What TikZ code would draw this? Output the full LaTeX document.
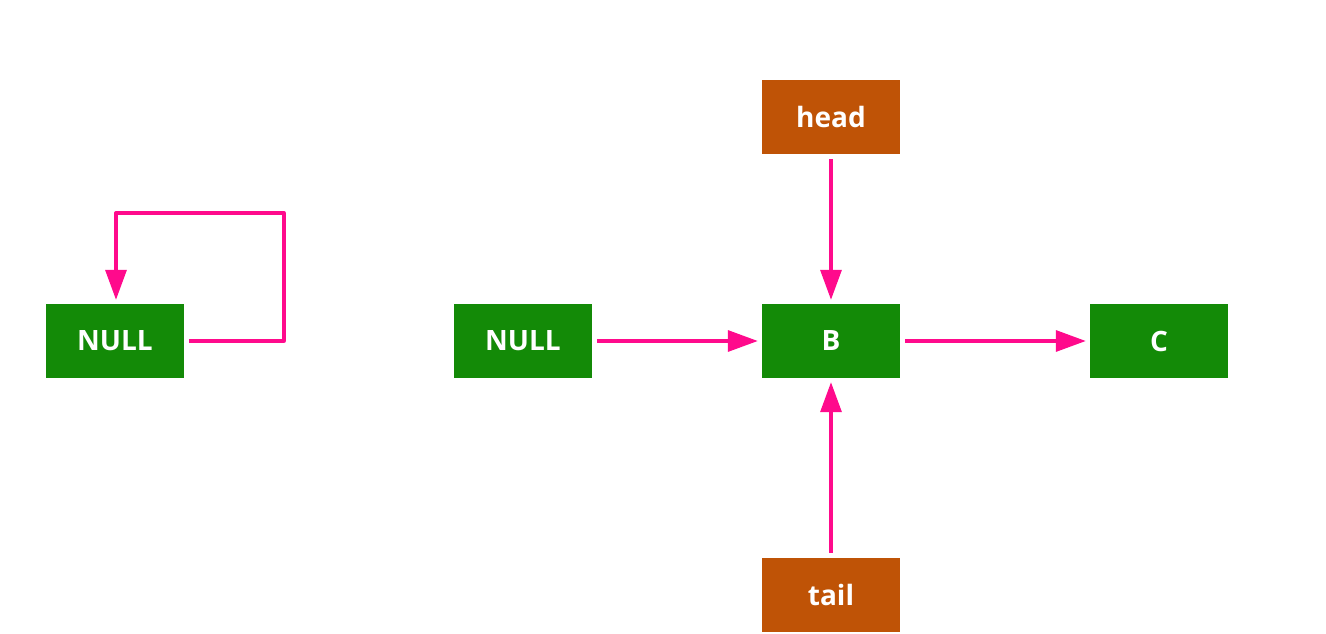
\documentclass[tikz,border=0pt]{standalone}
\usepackage{fontspec}
\setmainfont{Open Sans}
\usetikzlibrary{arrows.meta}
\definecolor{boxgreen}{HTML}{138A07}
\definecolor{boxorange}{HTML}{BF5306}
\definecolor{linkpink}{HTML}{FF0A8C}
\begin{document}
\begin{tikzpicture}[x=1pt,y=-1pt,
  listnode/.style={fill=boxgreen,draw=none,minimum width=138pt,minimum height=74pt,
    inner sep=0pt,text=white,font=\fontsize{28}{32}\selectfont\bfseries},
  ptrnode/.style={listnode,fill=boxorange},
  link/.style={draw=linkpink,line width=3.3pt,
    -{Triangle[length=30pt,width=21pt]},shorten >=4pt,shorten <=5pt}]
  \useasboundingbox (0,0) rectangle (1326,634);
  % nodes
  \node[listnode] (nullA) at (115,341) {NULL};
  \node[listnode] (nullB) at (523,341) {NULL};
  \node[listnode] (b) at (831,341) {B};
  \node[listnode] (c) at (1159,341) {C};
  \node[ptrnode] (head) at (831,117) {head};
  \node[ptrnode] (tail) at (831,595) {tail};
  % self loop on the lone NULL
  \coordinate (loopA) at (284,341);
  \coordinate (loopB) at (284,213);
  \coordinate (loopC) at (116,213);
  \draw[link,line join=round] (nullA.east) -- (loopA) -- (loopB) -- (loopC) -- (nullA.north -| loopC);
  % links
  \draw[link] (nullB) -- (b);
  \draw[link] (b) -- (c);
  \draw[link] (head) -- (b);
  \draw[link] (tail) -- (b);
\end{tikzpicture}
\end{document}
